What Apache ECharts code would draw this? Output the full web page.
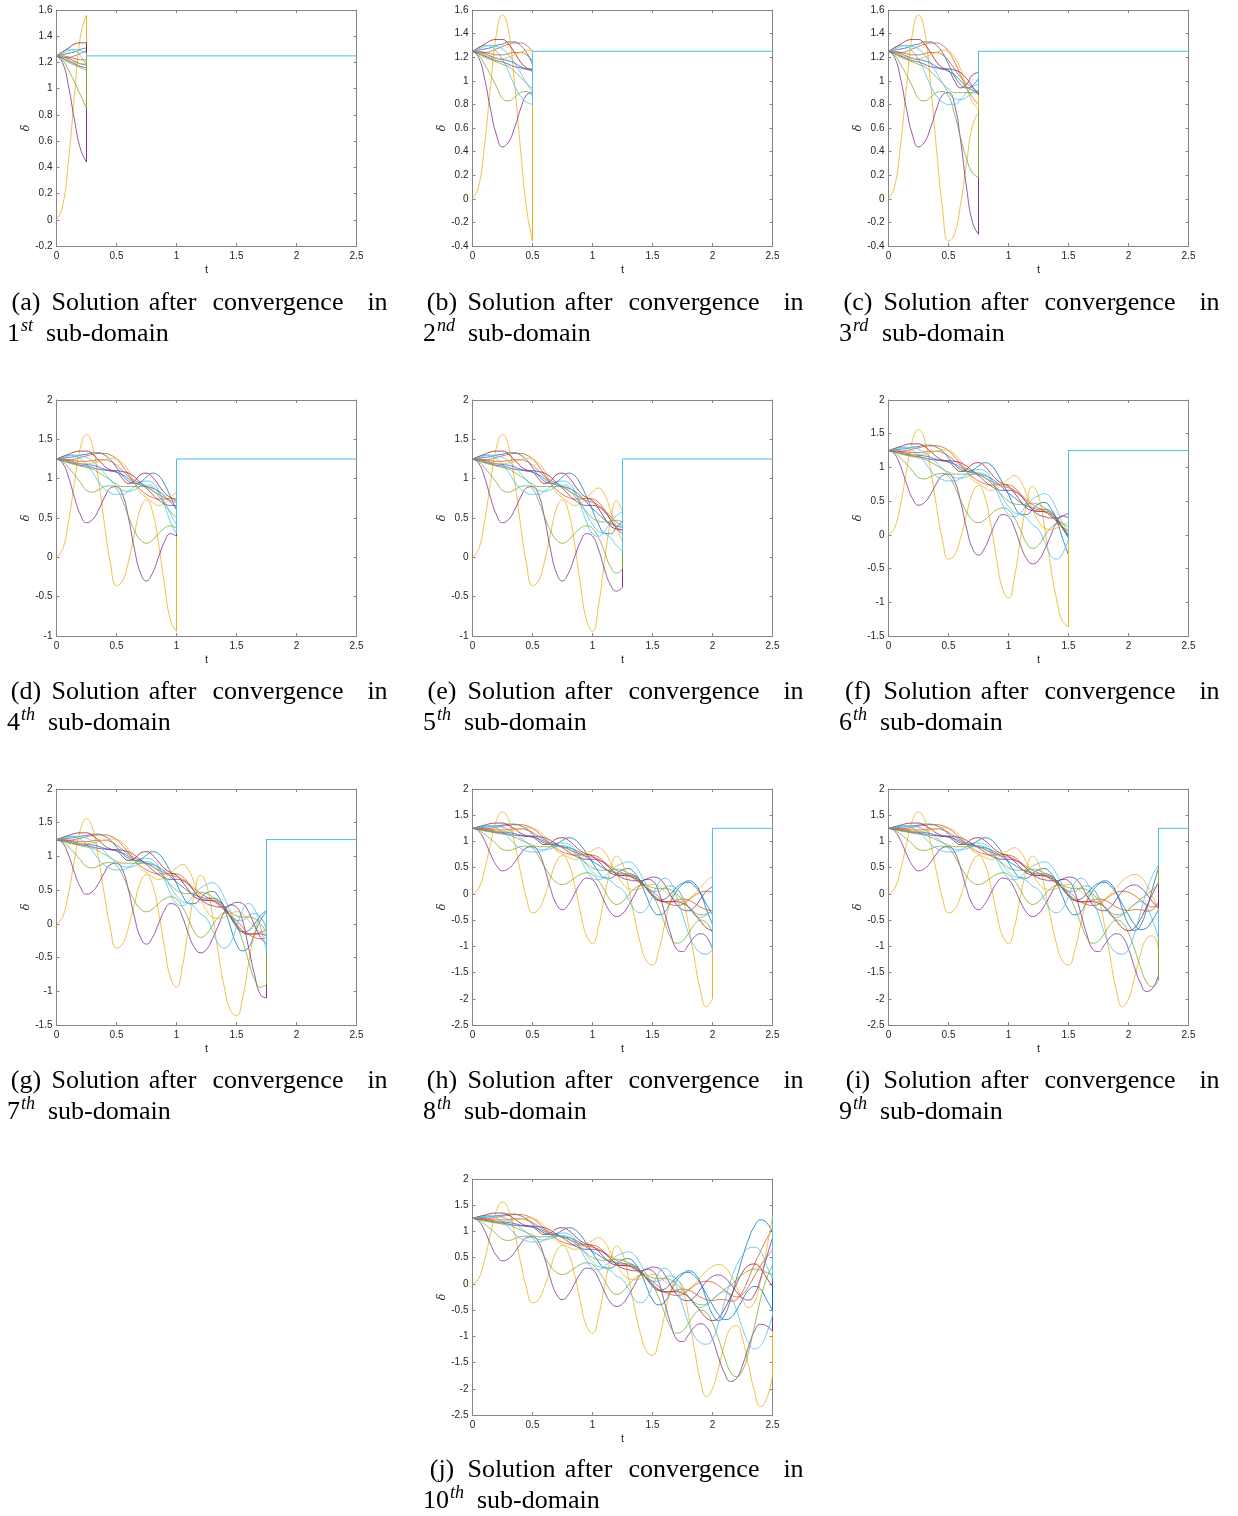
<!DOCTYPE html>
<html><head><meta charset="utf-8">
<script src="https://cdn.jsdelivr.net/npm/echarts@6/dist/echarts.min.js"></script>
<style>html,body{margin:0;padding:0;background:#fff}#c{width:1238px;height:1516px}</style>
</head><body><div id="c"></div>
<script>
// ---------------- DATA ----------------
const T = [0,0.05,0.1,0.15,0.2,0.25,0.3,0.35,0.4,0.45,0.5,0.55,0.6,0.65,0.7,0.75,0.8,0.85,0.9,0.95,1,1.05,1.1,1.15,1.2,1.25,1.3,1.35,1.4,1.45,1.5,1.55,1.6,1.65,1.7,1.75,1.8,1.85,1.9,1.95,2,2.05,2.1,2.15,2.2,2.25,2.3,2.35,2.4,2.45,2.5];

const blue1 = [1.25,1.26,1.27,1.28,1.3,1.31,1.33,1.33,1.3,1.24,1.14,1.04,0.97,0.94,0.96,1.02,1.07,1.04,0.93,0.77,0.6,0.42,0.31,0.3,0.38,0.46,0.48,0.4,0.22,-0.05,-0.3,-0.4,-0.35,-0.15,0.05,0.18,0.25,0.2,0.02,-0.3,-0.58,-0.7,-0.6,-0.3,0.1,0.5,0.85,1.1,1.22,1.17,0.98];
const orange1 = [1.25,1.24,1.24,1.25,1.27,1.29,1.31,1.32,1.32,1.3,1.25,1.16,1.05,0.94,0.86,0.8,0.76,0.74,0.74,0.75,0.74,0.7,0.6,0.48,0.38,0.35,0.35,0.33,0.25,0.12,0.0,-0.1,-0.15,-0.15,-0.12,-0.1,-0.12,-0.18,-0.25,-0.3,-0.32,-0.3,-0.3,-0.33,-0.3,-0.15,0.1,0.38,0.62,0.85,1.05];
const yellowA = [0,0.1,0.45,0.95,1.4,1.56,1.42,0.98,0.42,-0.08,-0.36,-0.3,-0.05,0.3,0.62,0.73,0.58,0.18,-0.35,-0.8,-0.94,-0.62,-0.05,0.45,0.72,0.58,0.12,-0.45,-0.95,-1.28,-1.36,-1.1,-0.6,-0.15,0.08,-0.1,-0.6,-1.25,-1.85,-2.15,-2.0,-1.6,-1.15,-0.85,-0.8,-1.05,-1.55,-2.05,-2.34,-2.2,-1.75];
const purple1 = [1.25,1.2,1.02,0.76,0.54,0.44,0.48,0.6,0.76,0.88,0.9,0.8,0.5,0.1,-0.2,-0.3,-0.2,0.0,0.2,0.3,0.27,0.1,-0.15,-0.35,-0.43,-0.38,-0.22,-0.02,0.18,0.28,0.25,0.05,-0.35,-0.75,-1.05,-1.1,-0.97,-0.82,-0.76,-0.82,-1.05,-1.4,-1.7,-1.86,-1.8,-1.55,-1.2,-0.9,-0.77,-0.8,-0.9];
const green1 = [1.25,1.22,1.14,1.05,0.95,0.85,0.83,0.86,0.9,0.91,0.87,0.72,0.52,0.34,0.22,0.18,0.22,0.3,0.37,0.4,0.37,0.25,0.07,-0.12,-0.2,-0.15,-0.02,0.1,0.16,0.12,-0.02,-0.25,-0.55,-0.82,-0.94,-0.9,-0.75,-0.58,-0.5,-0.55,-0.75,-1.05,-1.4,-1.68,-1.77,-1.65,-1.3,-0.8,-0.3,0.1,0.35];
const lightblue1 = [1.25,1.28,1.3,1.29,1.25,1.18,1.08,0.96,0.87,0.82,0.8,0.8,0.84,0.9,0.95,0.97,0.95,0.85,0.66,0.45,0.3,0.27,0.33,0.44,0.53,0.58,0.61,0.55,0.38,0.18,0.05,0.05,0.12,0.15,0.1,-0.05,-0.25,-0.4,-0.45,-0.4,-0.3,-0.2,-0.15,-0.25,-0.5,-0.85,-1.12,-1.24,-1.18,-0.95,-0.6];
const red1 = [1.25,1.28,1.31,1.34,1.35,1.35,1.31,1.24,1.16,1.11,1.09,1.0,0.94,0.97,1.05,1.07,1.02,0.92,0.82,0.76,0.72,0.62,0.5,0.4,0.36,0.35,0.34,0.3,0.22,0.1,-0.02,-0.12,-0.15,-0.15,-0.15,-0.18,-0.25,-0.38,-0.52,-0.65,-0.7,-0.65,-0.48,-0.25,0.0,0.22,0.35,0.38,0.3,0.12,-0.05];
const blue2 = [1.25,1.24,1.23,1.21,1.19,1.18,1.17,1.15,1.12,1.1,1.08,1.05,1.0,0.95,0.92,0.9,0.88,0.84,0.78,0.7,0.62,0.55,0.48,0.43,0.4,0.38,0.38,0.35,0.25,0.1,-0.05,-0.12,-0.1,0.0,0.12,0.2,0.22,0.15,0.0,-0.2,-0.4,-0.58,-0.68,-0.65,-0.5,-0.3,-0.12,-0.05,-0.1,-0.3,-0.5];
const orange2 = [1.25,1.25,1.24,1.23,1.22,1.22,1.23,1.24,1.24,1.22,1.17,1.1,1.03,0.98,0.94,0.9,0.85,0.8,0.76,0.72,0.7,0.66,0.6,0.52,0.45,0.4,0.35,0.28,0.2,0.12,0.05,-0.05,-0.15,-0.2,-0.22,-0.2,-0.12,-0.03,0.03,0.05,0.03,-0.03,-0.12,-0.2,-0.25,-0.2,-0.05,0.15,0.35,0.5,0.65];
const yellowB = [1.25,1.24,1.22,1.2,1.19,1.19,1.2,1.22,1.24,1.26,1.25,1.2,1.1,0.95,0.82,0.76,0.7,0.66,0.68,0.76,0.83,0.88,0.8,0.6,0.38,0.2,0.1,0.08,0.1,0.15,0.18,0.15,0.05,-0.05,-0.12,-0.15,-0.1,0.0,0.12,0.25,0.33,0.37,0.33,0.18,-0.05,-0.3,-0.45,-0.35,0.05,0.65,1.28];
const purple2 = [1.25,1.23,1.21,1.19,1.17,1.16,1.14,1.12,1.11,1.1,1.1,1.09,1.07,1.02,0.95,0.88,0.8,0.73,0.68,0.66,0.66,0.64,0.58,0.48,0.37,0.3,0.27,0.25,0.25,0.28,0.32,0.3,0.18,-0.02,-0.2,-0.3,-0.32,-0.25,-0.1,0.05,0.14,0.17,0.12,0.0,-0.15,-0.27,-0.31,-0.2,0.1,0.5,0.88];
const green2 = [1.25,1.23,1.2,1.18,1.16,1.14,1.12,1.08,1.03,0.98,0.93,0.9,0.9,0.9,0.9,0.89,0.85,0.78,0.68,0.58,0.5,0.46,0.45,0.46,0.47,0.45,0.4,0.32,0.24,0.17,0.12,0.1,0.1,0.08,0.0,-0.12,-0.25,-0.35,-0.4,-0.38,-0.3,-0.2,-0.1,-0.02,0.08,0.18,0.25,0.28,0.26,0.22,0.18];
const lightblue2 = [1.25,1.27,1.29,1.3,1.29,1.27,1.22,1.15,1.07,0.98,0.9,0.85,0.84,0.86,0.9,0.92,0.9,0.82,0.7,0.55,0.42,0.33,0.3,0.25,0.15,0.08,-0.1,-0.3,-0.36,-0.28,-0.05,0.2,0.3,0.22,-0.05,-0.4,-0.75,-1.0,-1.12,-1.15,-1.05,-0.75,-0.35,0.05,0.35,0.55,0.68,0.7,0.62,0.35,0.1];

// value every curve is reset to after the converged sub-domain
const RESET_VALUE = 1.25;
// end time of the converged part in each panel
const CUTS = [0.25,0.5,0.75,1.0,1.25,1.5,1.75,2.0,2.25,2.5];
// axis ranges
const X_MIN = 0, X_MAX = 2.5, X_STEP = 0.5;
const Y_MIN = [-0.2,-0.4,-0.4,-1,-1,-1.5,-1.5,-2.5,-2.5,-2.5];
const Y_MAX = [1.6,1.6,1.6,2,2,2,2,2,2,2];
const Y_STEP = [0.2,0.2,0.2,0.5,0.5,0.5,0.5,0.5,0.5,0.5];
// captions
const LETTERS = ['a','b','c','d','e','f','g','h','i','j'];
const NUMBERS = ['1','2','3','4','5','6','7','8','9','10'];
const SUFFIX = ['st','nd','rd','th','th','th','th','th','th','th'];
const CAPTION_WORDS = ['Solution','after','convergence','in'];
const CAPTION_TAIL = 'sub-domain';
const X_NAME = 't', Y_NAME = 'δ';

// ---------------- LAYOUT / STYLE ----------------
const CURVES = [blue1, orange1, yellowA, purple1, green1, lightblue1, red1, blue2, orange2, yellowB, purple2, green2, lightblue2];
const PALETTE = ['#0072BD','#D95319','#EDB120','#7E2F8E','#77AC30','#4DBEEE','#A2142F'];
const COL_LEFT = [56.5, 472.5, 888.5];
const ROW_TOP = [10, 400, 789, 1179];
const PANEL_POS = [[0,0],[1,0],[2,0],[0,1],[1,1],[2,1],[0,2],[1,2],[2,2],[1,3]];
const GW = 300, GH = 236;
const AXIS_COLOR = '#858585';
const LABEL_COLOR = '#262626';
const SERIF = 'Liberation Serif';

const grids = [], xAxes = [], yAxes = [], series = [], graphics = [];

PANEL_POS.forEach(([c, r], p) => {
  grids.push({left: COL_LEFT[c], top: ROW_TOP[r], width: GW, height: GH, containLabel: false});
  const common = {
    gridIndex: p, type: 'value',
    axisLine: {show: true, onZero: false, lineStyle: {color: AXIS_COLOR, width: 1}},
    axisTick: {show: true, inside: true, length: 3, lineStyle: {color: AXIS_COLOR}},
    splitLine: {show: false}
  };
  xAxes.push(Object.assign({}, common, {
    position: 'bottom', min: X_MIN, max: X_MAX, interval: X_STEP,
    axisLabel: {fontSize: 10, color: LABEL_COLOR, margin: 5, fontFamily: 'Liberation Sans'},
    name: X_NAME, nameLocation: 'middle', nameGap: 18,
    nameTextStyle: {fontSize: 11, color: LABEL_COLOR, fontFamily: 'Liberation Sans'}
  }));
  xAxes.push(Object.assign({}, common, {
    position: 'top', min: X_MIN, max: X_MAX, interval: X_STEP, axisLabel: {show: false}
  }));
  yAxes.push(Object.assign({}, common, {
    position: 'left', min: Y_MIN[p], max: Y_MAX[p], interval: Y_STEP[p],
    axisLabel: {fontSize: 10, color: LABEL_COLOR, margin: 4, fontFamily: 'Liberation Sans'},
    name: Y_NAME, nameLocation: 'middle', nameGap: 23,
    nameTextStyle: {fontSize: 11, color: LABEL_COLOR, fontStyle: 'italic', fontFamily: 'DejaVu Serif'}
  }));
  yAxes.push(Object.assign({}, common, {
    position: 'right', min: Y_MIN[p], max: Y_MAX[p], interval: Y_STEP[p], axisLabel: {show: false}
  }));

  const cut = CUTS[p];
  const tEnd = T[T.length - 1];
  CURVES.forEach((curve, k) => {
    const color = PALETTE[k % PALETTE.length];
    const pts = [];
    for (let i = 0; i < T.length; i++) if (T[i] <= cut + 1e-9) pts.push([T[i], curve[i]]);
    const last = pts[pts.length - 1];
    const base = {type: 'line', xAxisIndex: 2 * p, yAxisIndex: 2 * p, symbol: 'none',
      silent: true, animation: false, lineStyle: {color: color, width: 0.8}};
    series.push(Object.assign({}, base, {data: pts, smooth: 0.5}));
    // reset jump (and, for the last drawn curve, the flat tail that covers all others)
    const jump = (k === CURVES.length - 1)
      ? [last, [cut, RESET_VALUE], [tEnd, RESET_VALUE]]
      : [last, [cut, RESET_VALUE]];
    series.push(Object.assign({}, base, {data: jump, smooth: false,
      lineStyle: {color: color, width: 1}}));
  });

  // captions
  const ox = COL_LEFT[c] - 56.5;
  const y1 = 303 + r * 389, y2 = 334 + r * 389;
  const word1 = ['(' + LETTERS[p] + ')'].concat(CAPTION_WORDS);
  const centers = [26, 95.5, 172.5, 278, 377.5];
  const txt = (x, y, text, size, italic, align) => ({type: 'text', x: x, y: y, silent: true,
    style: {text: text, fontSize: size, fontFamily: SERIF, fontStyle: italic ? 'italic' : 'normal',
      fill: '#000', textAlign: align, textVerticalAlign: 'middle'}});
  word1.forEach((w, i) => graphics.push(txt(ox + centers[i], y1, w, 26, false, 'center')));
  const numW = NUMBERS[p].length * 13;
  const supW = {st: 15, nd: 21, rd: 19, th: 17}[SUFFIX[p]];
  graphics.push(txt(ox + 7, y2, NUMBERS[p], 26, false, 'left'));
  graphics.push(txt(ox + 7 + numW + 1, y2 - 8, SUFFIX[p], 18, true, 'left'));
  graphics.push(txt(ox + 7 + numW + 1 + supW + 10, y2, CAPTION_TAIL, 26, false, 'left'));
});

const chart = echarts.init(document.getElementById('c'), null, {renderer: 'canvas'});
chart.setOption({
  animation: false,
  backgroundColor: '#ffffff',
  grid: grids, xAxis: xAxes, yAxis: yAxes, series: series, graphic: graphics
});
</script></body></html>
